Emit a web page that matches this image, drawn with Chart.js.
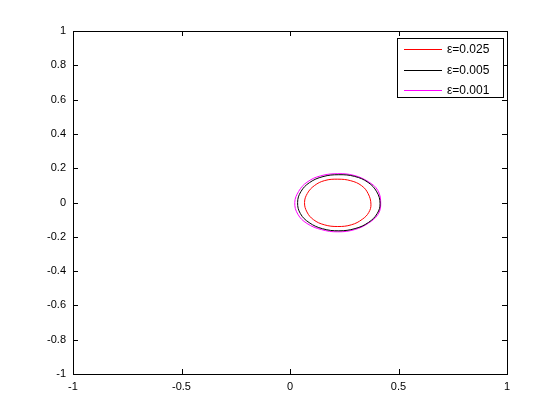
<!DOCTYPE html>
<html lang="en">
<head>
    <meta charset="UTF-8">
    <title>Closed curves</title>
    <style>
        body {
            margin: 0;
            padding: 0;
            background: #fff;
        }

        .container {
            width: 560px;
            height: 420px;
        }
    </style>
    <script src="https://cdn.jsdelivr.net/npm/chart.js"></script>
</head>
<body>
    <div class="container">
        <canvas id="curveChart" width="560" height="420"></canvas>
    </div>
    <script>
        // Data, points going round each closed curve
        const labels = ['\u03b5=0.025', '\u03b5=0.005', '\u03b5=0.001'];
        const colors = ['#ff0000', '#000000', '#ff00ff'];

        const redX = [0.373, 0.36, 0.33, 0.28, 0.22, 0.16, 0.112, 0.08, 0.067, 0.078, 0.108, 0.158, 0.22, 0.283, 0.333, 0.363];
        const redY = [-0.01, 0.052, 0.098, 0.127, 0.136, 0.128, 0.098, 0.053, 0.0, -0.055, -0.1, -0.13, -0.14, -0.13, -0.098, -0.058];

        const blackX = [0.415, 0.4, 0.36, 0.298, 0.225, 0.152, 0.09, 0.05, 0.035, 0.048, 0.088, 0.15, 0.225, 0.3, 0.362, 0.402];
        const blackY = [-0.005, 0.062, 0.117, 0.152, 0.162, 0.151, 0.116, 0.063, 0.0, -0.065, -0.117, -0.153, -0.165, -0.152, -0.116, -0.064];

        const magentaX = [0.418, 0.405, 0.36, 0.295, 0.22, 0.14, 0.078, 0.04, 0.022, 0.036, 0.078, 0.145, 0.22, 0.298, 0.362, 0.405];
        const magentaY = [-0.01, 0.07, 0.122, 0.158, 0.168, 0.155, 0.118, 0.065, 0.0, -0.068, -0.122, -0.158, -0.171, -0.158, -0.12, -0.07];

        const xTicks = [-1, -0.5, 0, 0.5, 1];
        const yTicks = [-1, -0.8, -0.6, -0.4, -0.2, 0, 0.2, 0.4, 0.6, 0.8, 1];

        // closed loop: wrap one point on each end so the spline joins smoothly,
        // the two wrap segments are hidden
        function loopPoints(xs, ys) {
            const n = xs.length;
            const pts = [{ x: xs[n - 1], y: ys[n - 1] }];
            for (let i = 0; i < n; i++) pts.push({ x: xs[i], y: ys[i] });
            pts.push({ x: xs[0], y: ys[0] });
            pts.push({ x: xs[1], y: ys[1] });
            return pts;
        }

        const seriesX = [redX, blackX, magentaX];
        const seriesY = [redY, blackY, magentaY];

        // MATLAB style box with inward ticks on all four sides
        const boxPlugin = {
            id: 'boxPlugin',
            afterDraw(chart) {
                const c = chart.ctx;
                const a = chart.chartArea;
                const xs = chart.scales.x;
                const ys = chart.scales.y;
                c.save();
                c.strokeStyle = '#000';
                c.lineWidth = 1;
                c.strokeRect(Math.round(a.left) + 0.5, Math.round(a.top) + 0.5,
                    Math.round(a.right - a.left), Math.round(a.bottom - a.top));
                c.beginPath();
                xTicks.forEach(v => {
                    const px = Math.round(xs.getPixelForValue(v)) + 0.5;
                    c.moveTo(px, a.bottom); c.lineTo(px, a.bottom - 5);
                    c.moveTo(px, a.top); c.lineTo(px, a.top + 5);
                });
                yTicks.forEach(v => {
                    const py = Math.round(ys.getPixelForValue(v)) + 0.5;
                    c.moveTo(a.left, py); c.lineTo(a.left + 5, py);
                    c.moveTo(a.right, py); c.lineTo(a.right - 5, py);
                });
                c.stroke();

                // legend box in the top right corner
                const lx = 397, ly = 38, lw = 106, lh = 59;
                c.fillStyle = '#fff';
                c.fillRect(lx + 0.5, ly + 0.5, lw, lh);
                c.strokeStyle = '#000';
                c.strokeRect(lx + 0.5, ly + 0.5, lw, lh);
                c.font = '12px "Liberation Sans", Arial, sans-serif';
                c.textBaseline = 'middle';
                labels.forEach((t, i) => {
                    const yy = Math.round(ly + 11 + i * 20.5);
                    c.fillStyle = colors[i];
                    c.fillRect(lx + 7, yy, 38, 1);
                    c.fillStyle = '#000';
                    c.fillText(t, lx + 50, yy + 1);
                });
                c.restore();
            }
        };

        const ctx = document.getElementById('curveChart').getContext('2d');
        const curveChart = new Chart(ctx, {
            type: 'scatter',
            data: {
                datasets: labels.map((lab, i) => ({
                    label: lab,
                    data: loopPoints(seriesX[i], seriesY[i]),
                    showLine: true,
                    borderColor: colors[i],
                    borderWidth: 1,
                    pointRadius: 0,
                    tension: 0.4,
                    segment: {
                        borderColor: s => (s.p0DataIndex === 0 || s.p1DataIndex === seriesX[i].length + 2)
                            ? 'rgba(0,0,0,0)' : colors[i]
                    }
                }))
            },
            options: {
                responsive: false,
                animation: false,
                layout: {
                    padding: { left: 0, top: 31, right: 53, bottom: 0 }
                },
                plugins: {
                    legend: { display: false },
                    tooltip: { enabled: false }
                },
                scales: {
                    x: {
                        type: 'linear',
                        min: -1,
                        max: 1,
                        afterFit(scale) { scale.height = 46; },
                        afterBuildTicks(scale) { scale.ticks = xTicks.map(v => ({ value: v })); },
                        grid: { display: false, drawTicks: false },
                        border: { display: false },
                        ticks: {
                            color: '#000',
                            padding: 6,
                            callback: v => String(v),
                            font: { family: '"Liberation Sans", Arial, sans-serif', size: 11 }
                        }
                    },
                    y: {
                        type: 'linear',
                        min: -1,
                        max: 1,
                        afterFit(scale) { scale.width = 73; },
                        afterBuildTicks(scale) { scale.ticks = yTicks.map(v => ({ value: v })); },
                        grid: { display: false, drawTicks: false },
                        border: { display: false },
                        ticks: {
                            color: '#000',
                            padding: 7,
                            callback: v => String(v),
                            font: { family: '"Liberation Sans", Arial, sans-serif', size: 11 }
                        }
                    }
                }
            },
            plugins: [boxPlugin]
        });
    </script>
</body>
</html>
